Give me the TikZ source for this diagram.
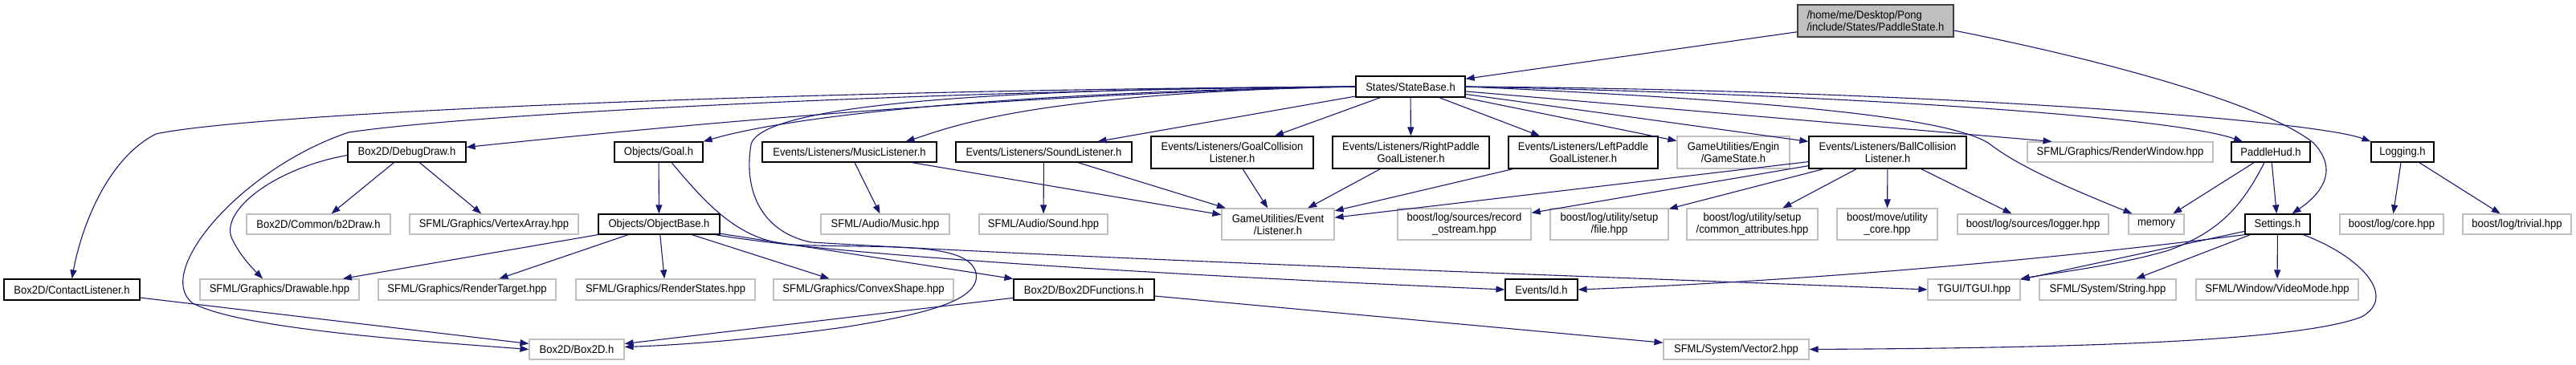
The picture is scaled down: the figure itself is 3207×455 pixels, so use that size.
\documentclass[tikz,border=0pt]{standalone}
\usepackage{fontspec}
\usetikzlibrary{arrows.meta}
\newfontfamily\nf[FakeStretch=0.93]{Liberation Sans}
\definecolor{edgec}{HTML}{191970}
\definecolor{grayb}{HTML}{BFBFBF}
\tikzset{
 box/.style={draw=black, line width=1.2pt, fill=white, inner sep=0pt, align=center, font={\nf\fontsize{14}{15}\selectfont}},
 ext/.style={box, draw=grayb},
 rootb/.style={box, fill=grayb, draw=black!75, align=left},
 s1/.style={minimum height=25pt},
 s2/.style={minimum height=40pt},
 s3/.style={minimum height=39pt},
 s4/.style={minimum height=26pt},
 e/.style={draw=edgec, line width=1.1pt, -{Triangle[length=11pt,width=8pt]}},
}
\begin{document}
\begin{tikzpicture}[x=1pt,y=-1pt]
\fill[white] (0,0) rectangle (3207,455);
\useasboundingbox (0,0) rectangle (3207,455);
% row 0 / 1
\node[rootb, minimum width=194pt, minimum height=40pt] (root) at (2335,26) {/home/me/Desktop/Pong\\/include/States/PaddleState.h};
\node[box, s4, minimum width=136pt] (sb) at (1756,108) {States/StateBase.h};
% row 2
\node[box, s1, minimum width=147pt] (dd) at (506.5,189.5) {Box2D/DebugDraw.h};
\node[box, s1, minimum width=110pt] (goal) at (820,189.5) {Objects/Goal.h};
\node[box, s1, minimum width=217pt] (mus) at (1057.5,189.5) {Events/Listeners/MusicListener.h};
\node[box, s1, minimum width=219pt] (snd) at (1299.5,189.5) {Events/Listeners/SoundListener.h};
\node[box, s2, minimum width=202pt] (gc) at (1534,190) {Events/Listeners/GoalCollision\\Listener.h};
\node[box, s2, minimum width=195pt] (rp) at (1756.5,190) {Events/Listeners/RightPaddle\\GoalListener.h};
\node[box, s2, minimum width=186pt] (lp) at (1971,190) {Events/Listeners/LeftPaddle\\GoalListener.h};
\node[ext, s2, minimum width=140pt] (gs) at (2158,190) {GameUtilities/Engin\\/GameState.h};
\node[box, s2, minimum width=196pt] (bc) at (2350,190) {Events/Listeners/BallCollision\\Listener.h};
\node[ext, s1, minimum width=231pt] (rw) at (2639.5,189.5) {SFML/Graphics/RenderWindow.hpp};
\node[box, s1, minimum width=98pt] (ph) at (2827,189.5) {PaddleHud.h};
\node[box, s1, minimum width=78pt] (log) at (2991,189.5) {Logging.h};
% row 3
\node[ext, s1, minimum width=179pt] (b2draw) at (396.5,279.5) {Box2D/Common/b2Draw.h};
\node[ext, s1, minimum width=210pt] (va) at (615,279.5) {SFML/Graphics/VertexArray.hpp};
\node[box, s1, minimum width=151pt] (ob) at (820.5,279.5) {Objects/ObjectBase.h};
\node[ext, s1, minimum width=160pt] (mush) at (1102,279.5) {SFML/Audio/Music.hpp};
\node[ext, s1, minimum width=160pt] (sndh) at (1299,279.5) {SFML/Audio/Sound.hpp};
\node[ext, s3, minimum width=140pt] (lis) at (1591,279.5) {GameUtilities/Event\\/Listener.h};
\node[ext, s3, minimum width=166pt] (ros) at (1823,279.5) {boost/log/sources/record\\\_ostream.hpp};
\node[ext, s3, minimum width=147pt] (file) at (2003.5,279.5) {boost/log/utility/setup\\/file.hpp};
\node[ext, s3, minimum width=163pt] (ca) at (2181.5,279.5) {boost/log/utility/setup\\/common\_attributes.hpp};
\node[ext, s3, minimum width=125pt] (uc) at (2349.5,279.5) {boost/move/utility\\\_core.hpp};
\node[ext, s1, minimum width=188pt] (lg) at (2531,279.5) {boost/log/sources/logger.hpp};
\node[ext, s1, minimum width=69pt] (mem) at (2684.5,279.5) {memory};
\node[box, s1, minimum width=81pt] (set) at (2835.5,279.5) {Settings.h};
\node[ext, s1, minimum width=129pt] (core) at (2977.5,279.5) {boost/log/core.hpp};
\node[ext, s1, minimum width=135pt] (triv) at (3133.5,279.5) {boost/log/trivial.hpp};
% row 4
\node[box, s4, minimum width=169pt] (cl) at (89.5,361) {Box2D/ContactListener.h};
\node[ext, s4, minimum width=198pt] (dw) at (348,361) {SFML/Graphics/Drawable.hpp};
\node[ext, s4, minimum width=221pt] (rt) at (581.5,361) {SFML/Graphics/RenderTarget.hpp};
\node[ext, s4, minimum width=223pt] (rs) at (828.5,361) {SFML/Graphics/RenderStates.hpp};
\node[ext, s4, minimum width=224pt] (cs) at (1075,361) {SFML/Graphics/ConvexShape.hpp};
\node[box, s4, minimum width=175pt] (bf) at (1349.5,361) {Box2D/Box2DFunctions.h};
\node[box, s4, minimum width=90pt] (id) at (1919,361) {Events/Id.h};
\node[ext, s4, minimum width=115pt] (tgui) at (2457.5,361) {TGUI/TGUI.hpp};
\node[ext, s4, minimum width=170pt] (str) at (2624,361) {SFML/System/String.hpp};
\node[ext, s4, minimum width=202pt] (vm) at (2835,361) {SFML/Window/VideoMode.hpp};
% row 5
\node[ext, s1, minimum width=118pt] (b2d) at (718,435.5) {Box2D/Box2D.h};
\node[ext, s1, minimum width=181pt] (v2) at (2161.5,435.5) {SFML/System/Vector2.hpp};

% edges from root
\draw[e] (root) -- (sb);
\draw[e] ([yshift=-12pt]root.east) .. controls (2620,75) and (2820,130) .. (2880,178) .. controls (2915,215) and (2885,245) .. ([xshift=18pt]set.north);

% edges from StateBase (left side)
\draw[e] (sb.west) .. controls (1000,112) and (320,140) .. (194,167) .. controls (130,200) and (100,290) .. (cl.north);
\draw[e] (sb.west) .. controls (1200,112) and (600,140) .. (434,165) .. controls (300,210) and (190,340) .. (240,378) .. controls (300,410) and (520,425) .. (b2d.west);
\draw[e] (sb.west) .. controls (1300,116) and (900,150) .. ([yshift=6pt]dd.east);
\draw[e] (sb.west) .. controls (1300,114) and (1000,140) .. (goal.north east);
\draw[e] (sb.west) .. controls (1280,116) and (1180,160) .. ([xshift=70pt]mus.north);
\draw[e] (sb) -- ([xshift=67pt]snd.north);
\draw[e] (sb) -- ([xshift=53pt]gc.north);
\draw[e] (sb) -- (rp);
\draw[e] (sb.west) .. controls (1300,110) and (950,125) .. (935,180) .. controls (925,240) and (950,290) .. (1010,302) .. controls (1400,325) and (2000,345) .. (tgui.west);
% edges from StateBase (right side)
\draw[e] (sb) -- (lp);
\draw[e] (sb) -- (gs);
\draw[e] (sb) -- (bc);
\draw[e] (sb) -- ([xshift=-85pt]rw.north);
\draw[e] (sb.east) .. controls (2200,125) and (2420,145) .. (2475,178) .. controls (2510,205) and (2560,228) .. ([xshift=-30pt]mem.north);
\draw[e] (sb.east) .. controls (2300,118) and (2700,145) .. ([xshift=-35pt]ph.north);
\draw[e] (sb.east) .. controls (2400,112) and (2880,150) .. (log.north west);

% DebugDraw
\draw[e] (dd) -- (b2draw);
\draw[e] (dd) -- (va);
\draw[e] ([yshift=-4pt]dd.west) .. controls (340,210) and (270,265) .. (290,300) .. controls (300,320) and (315,335) .. ([xshift=-21pt]dw.north);

% Goal
\draw[e] (goal) -- (ob);
\draw[e] ([xshift=16pt]goal.south) .. controls (880,255) and (920,300) .. (985,305) .. controls (1100,310) and (1205,300) .. (1215,340) .. controls (1222,375) and (1150,392) .. (1050,408) .. controls (950,422) and (850,430) .. ([yshift=3pt]b2d.east);

% ObjectBase
\draw[e] (ob) -- (dw);
\draw[e] (ob) -- (rt);
\draw[e] (ob) -- (rs);
\draw[e] (ob) -- (cs);
\draw[e] (ob) -- (bf);
\draw[e] ([xshift=-6pt]ob.south east) .. controls (1050,320) and (1500,345) .. (id.west);

% listeners
\draw[e] (mus) -- (mush);
\draw[e] (mus) -- (lis);
\draw[e] (snd) -- (sndh);
\draw[e] (snd) -- (lis);
\draw[e] (gc) -- (lis);
\draw[e] (rp) -- (lis);
\draw[e] (lp) -- (lis);
\draw[e] (bc) -- (lis);
\draw[e] (bc) -- (ros);
\draw[e] (bc) -- (file);
\draw[e] (bc) -- (ca);
\draw[e] (bc) -- (uc);
\draw[e] (bc) -- (lg);

% PaddleHud
\draw[e] (ph) -- (mem);
\draw[e] (ph) -- (set);
\draw[e] ([xshift=-8pt]ph.south) .. controls (2790,260) and (2760,290) .. (2700,312) .. controls (2640,330) and (2560,340) .. (tgui.north east);

% Logging
\draw[e] (log) -- (core);
\draw[e] (log) -- (triv);

% Settings
\draw[e] (set) -- (tgui);
\draw[e] (set) -- (str);
\draw[e] (set) -- (vm);
\draw[e] ([xshift=32pt]set.south) .. controls (2940,320) and (2985,370) .. (2940,395) .. controls (2850,430) and (2500,434) .. (v2.east);
\draw[e] (set.south west) .. controls (2500,330) and (2200,352) .. (id.east);

% bottom
\draw[e] (cl) -- (b2d);
\draw[e] (bf) -- (b2d);
\draw[e] (bf) -- (v2);
\end{tikzpicture}
\end{document}
